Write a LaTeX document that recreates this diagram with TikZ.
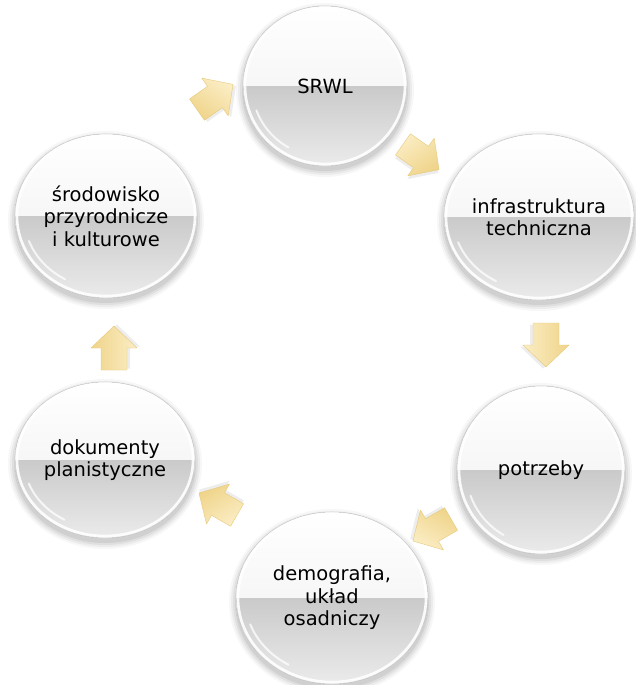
\documentclass[tikz,border=0pt]{standalone}
\usepackage{fontspec}
\setmainfont{DejaVu Sans}
\usetikzlibrary{shapes.geometric}
\definecolor{upmid}{HTML}{EEEEEE}
\definecolor{lowtop}{HTML}{CACACA}
\definecolor{lowbot}{HTML}{EBEBEB}
\definecolor{rimgray}{HTML}{DADADA}
\definecolor{arrlight}{HTML}{FBEDC4}
\definecolor{arrdark}{HTML}{EFD48A}
\definecolor{arredge}{HTML}{E6C97A}
\tikzset{
  bubblenode/.style={ellipse, inner sep=0pt, align=center,
    font=\fontsize{19.5}{22.5}\selectfont, text=black,
    path picture={
      \fill[top color=white, bottom color=upmid]
        (path picture bounding box.north west) rectangle (path picture bounding box.east);
      \fill[top color=lowtop, bottom color=lowbot]
        (path picture bounding box.west) rectangle (path picture bounding box.south east);
    }},
  arrowbody/.style={draw=arredge, line width=0.4pt, line join=round},
}
\newcommand\bubble[6]{%
  \foreach \k/\o in {7/0.03,5/0.045,3/0.055,1/0.065}{
    \fill[black, opacity=\o] (#2,#3+4) ellipse [x radius=#4pt+\k pt, y radius=#5pt+\k pt];
  }
  \node[bubblenode, minimum width={2*#4pt}, minimum height={2*#5pt}] (#1) at (#2,#3) {#6};
  \draw[rimgray, line width=0.6pt] (#1.center) ellipse [x radius=#4pt, y radius=#5pt];
  \draw[white, line width=2.6pt, opacity=0.9] (#1.center) ellipse [x radius=#4pt-2pt, y radius=#5pt-2pt];
  \draw[white, line width=2pt, line cap=round, opacity=0.75] (#1.center) ++(200:{#4pt-9pt} and {#5pt-9pt})
     arc [start angle=200, end angle=240, x radius=#4pt-9pt, y radius=#5pt-9pt];
}
\newcommand\blockarr[4]{%
  \coordinate (#1) at (#2,#3);
  \begin{scope}[shift={(#1)}, rotate=#4]
    \fill[black, opacity=0.07, xshift=1.5pt, yshift=-3pt]
      (-22,-13) -- (0,-13) -- (0,-23) -- (22,0) -- (0,23) -- (0,13) -- (-22,13) -- cycle;
    \path[arrowbody, top color=arrlight, bottom color=arrdark, shading angle=-#4]
      (-22,-13) -- (0,-13) -- (0,-23) -- (22,0) -- (0,23) -- (0,13) -- (-22,13) -- cycle;
  \end{scope}
}
\begin{document}
\begin{tikzpicture}[x=1pt,y=-1pt]
\useasboundingbox[fill=white] (0,0) rectangle (636,685);
\bubble{srwl}{325}{86}{82}{80}{SRWL}
\bubble{infra}{539}{217}{95}{83}{infrastruktura\\techniczna}
\bubble{potrz}{541}{470}{84}{84}{potrzeby}
\bubble{demo}{332}{598}{96}{86}{demografia,\\układ\\osadniczy}
\bubble{dok}{105}{460}{90}{78}{dokumenty\\planistyczne}
\bubble{srod}{106}{216}{91}{82}{środowisko\\przyrodnicze\\i kulturowe}
\blockarr{a1}{421}{157}{-35}
\blockarr{a2}{546}{345}{-90}
\blockarr{a3}{432}{530}{-150}
\blockarr{a4}{218}{504}{150}
\blockarr{a5}{114}{348}{90}
\blockarr{a6}{215}{97}{35}
\end{tikzpicture}
\end{document}
